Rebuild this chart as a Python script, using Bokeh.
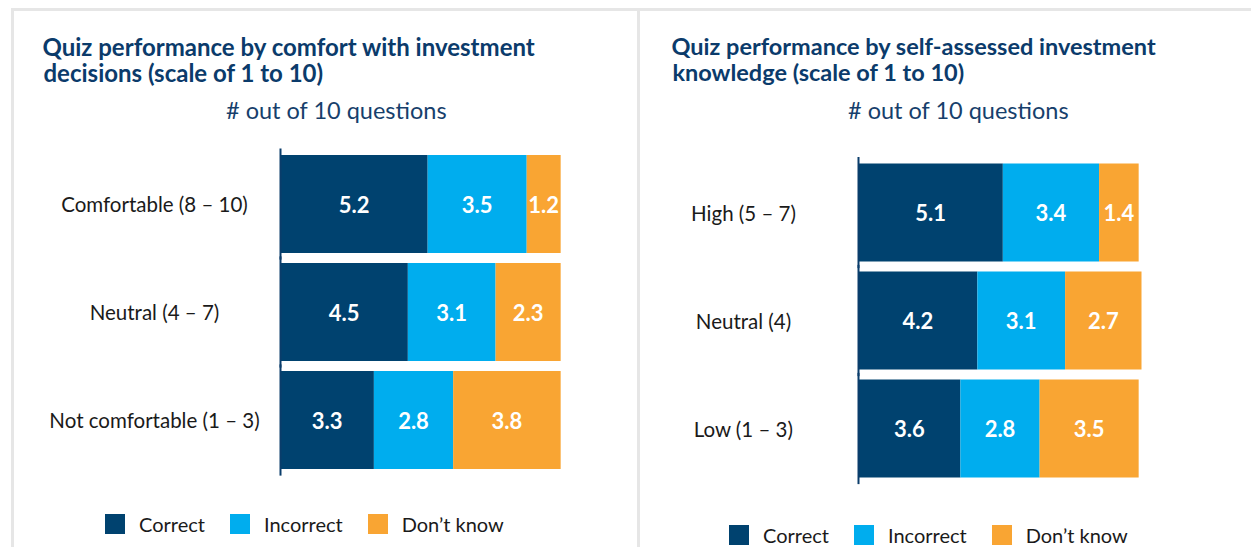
from bokeh.plotting import figure
from bokeh.models import (ColumnDataSource, FactorRange, Range1d, Label,
                          LabelSet, Legend, LegendItem, Spacer)
from bokeh.layouts import row, column
from bokeh.core.properties import value
from bokeh.embed import file_html
from bokeh.resources import INLINE

# ---------------- data ----------------
series_names = ["Correct", "Incorrect", "Don\u2019t know"]

left_categories = ["Comfortable (8 \u2013 10)", "Neutral (4 \u2013 7)", "Not comfortable (1 \u2013 3)"]
left_correct = [5.2, 4.5, 3.3]
left_incorrect = [3.5, 3.1, 2.8]
left_dont_know = [1.2, 2.3, 3.8]
left_title = ["Quiz performance by comfort with investment", "decisions (scale of 1 to 10)"]

right_categories = ["High (5 \u2013 7)", "Neutral (4)", "Low (1 \u2013 3)"]
right_correct = [5.1, 4.2, 3.6]
right_incorrect = [3.4, 3.1, 2.8]
right_dont_know = [1.4, 2.7, 3.5]
right_title = ["Quiz performance by self-assessed investment", "knowledge (scale of 1 to 10)"]

subtitle = "# out of 10 questions"

# ---------------- style ----------------
COLORS = ["#00426f", "#00adee", "#f9a533"]
NAVY = "#0b3b6b"
SUB = "#173f6c"
AXIS = "#0a3d6b"
TEXT = "#1a1a1a"
GRAY = "#e6e6e6"
FONT = "Lato"
PX_PER_UNIT = 28.3   # horizontal scale
STEP = 108.0         # pixels per category band
BAR_H = 0.907


def make_panel(cats, correct, incorrect, dont_know, title_lines, geo):
    W = geo["width"]
    # ---- header (titles) ----
    h = figure(width=W, height=geo["head_h"], x_range=Range1d(0, 1), y_range=Range1d(0, 1),
               x_axis_location=None, y_axis_location=None, toolbar_location=None,
               output_backend="svg", min_border=0, outline_line_color=None,
               background_fill_color="white", border_fill_color="white")
    for g in h.grid:
        g.visible = False
    for i, line in enumerate(title_lines):
        h.add_layout(Label(x=geo["title_x"] + i, y=geo["title_y"] - 26 * i, x_units="screen",
                           y_units="screen", text=line, text_font=FONT, text_font_style="bold",
                           text_font_size=geo["title_size"], text_color=NAVY,
                           text_baseline="alphabetic"))

    # ---- bars ----
    keys = ["correct", "incorrect", "dont_know"]
    vals = [correct, incorrect, dont_know]
    data = {"cat": cats}
    left = [0.0] * len(cats)
    for k, v in zip(keys, vals):
        data[k] = v
        data["mid_" + k] = [l + x / 2 for l, x in zip(left, v)]
        data["lab_" + k] = ["%.1f" % x for x in v]
        left = [l + x for l, x in zip(left, v)]
    src = ColumnDataSource(data)

    bars_h = geo["bars_h"]
    x0 = -geo["axis_px"] / PX_PER_UNIT
    x1 = (W - geo["axis_px"]) / PX_PER_UNIT
    p = figure(width=W, height=bars_h,
               y_range=FactorRange(factors=list(reversed(cats)),
                                   range_padding=(bars_h / STEP - len(cats)) / 2,
                                   range_padding_units="absolute"),
               x_range=Range1d(x0, x1),
               x_axis_location=None, y_axis_location=None,
               toolbar_location=None, output_backend="svg", min_border=0,
               background_fill_color="white", border_fill_color="white")
    p.outline_line_color = None
    for g in p.grid:
        g.visible = False

    rs = p.hbar_stack(keys, y="cat", height=BAR_H, color=COLORS, line_color=None, source=src)

    # vertical category axis line at x = 0, spanning the category bands
    half = 1.0 / PX_PER_UNIT
    p.hbar(y="cat", left=-half, right=half, height=1.03, color=AXIS, line_color=None, source=src)

    for k in keys:
        p.text(x="mid_" + k, y="cat", text="lab_" + k, source=src, text_color="white",
               text_font=value(FONT), text_font_style="bold", text_font_size="22px",
               text_align="center", text_baseline="middle")

    p.add_layout(LabelSet(x=geo["cat_x"], x_units="screen", y="cat", text="cat", source=src,
                          text_font=value(FONT), text_font_size="20.5px", text_color=TEXT,
                          text_align="center", text_baseline="middle"))

    p.add_layout(Label(x=geo["sub_x"], y=geo["sub_y"], x_units="screen", y_units="screen",
                       text=subtitle, text_font=FONT, text_font_size="23.5px", text_color=SUB,
                       text_align="center", text_baseline="alphabetic"))

    legend = Legend(items=[LegendItem(label=n, renderers=[r]) for n, r in zip(series_names, rs)],
                    orientation="horizontal", location=geo["leg"])
    legend.border_line_color = None
    legend.background_fill_alpha = 0
    legend.padding = 0
    legend.margin = 0
    legend.spacing = 22
    legend.label_standoff = 12
    legend.glyph_width = 25
    legend.glyph_height = 25
    legend.label_height = 25
    legend.label_text_font = FONT
    legend.label_text_font_size = "20px"
    legend.label_text_color = TEXT
    p.add_layout(legend)

    kids = [h, p]
    if geo["pad_h"] > 0:
        kids.append(Spacer(width=W, height=geo["pad_h"]))
    return column(*kids, styles={"border-top": "3px solid " + GRAY,
                                 "border-left": "3px solid " + GRAY})


left_geo = dict(width=623, head_h=75, bars_h=451, pad_h=10, axis_px=266, title_size="24px",
                cat_x=140, title_x=28, title_y=40, sub_x=322, sub_y=428, leg=(88, 1))
right_geo = dict(width=611, head_h=82, bars_h=454, pad_h=0, axis_px=218, title_size="23.5px",
                 cat_x=103, title_x=31, title_y=48, sub_x=318, sub_y=438, leg=(86, 0))

p1 = make_panel(left_categories, left_correct, left_incorrect, left_dont_know, left_title, left_geo)
p2 = make_panel(right_categories, right_correct, right_incorrect, right_dont_know, right_title, right_geo)

layout = column(Spacer(width=1251, height=8), row(Spacer(width=11, height=536), p1, p2))
open("out.html", "w").write(file_html(layout, INLINE))
